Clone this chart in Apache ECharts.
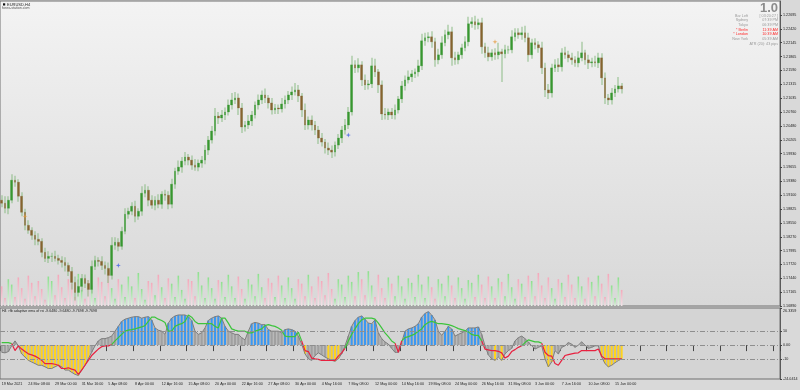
<!DOCTYPE html>
<html><head><meta charset="utf-8">
<script src="https://cdn.jsdelivr.net/npm/echarts@6/dist/echarts.min.js"></script>
<style>html,body{margin:0;padding:0;background:#d9d9d9}#c{width:800px;height:390px}</style>
</head><body><div id="c"></div>
<script>
// ---- DATA (EURUSD, 8-hour bars) ----
const xTickLabels = ['19 Mar 2021','24 Mar 08:00','29 Mar 00:00','31 Mar 16:00','5 Apr 08:00','8 Apr 00:00','12 Apr 16:00','15 Apr 08:00','20 Apr 00:00','22 Apr 16:00','27 Apr 08:00','30 Apr 00:00','4 May 16:00','7 May 08:00','12 May 00:00','14 May 16:00','19 May 08:00','24 May 00:00','26 May 16:00','31 May 08:00','3 Jun 00:00','7 Jun 16:00','10 Jun 08:00','15 Jun 00:00'];
const priceTicks = [1.16890,1.17165,1.17440,1.17720,1.17995,1.18270,1.18550,1.18825,1.19100,1.19380,1.19655,1.19930,1.20205,1.20480,1.20760,1.21035,1.21315,1.21590,1.21865,1.22145,1.22420,1.22695];
const subTicks = [26.3359, 10, 0, -10, -24.0414];
const subTickLabels = ['26.3359','10','0.00','-10','-24.0414'];
const firstOpen = 1.1900;
const closes = [
1.1894,1.1884,1.1900,1.1940,1.1936,1.1908,1.1876,1.1850,1.1840,1.1830,
1.1822,1.1818,1.1796,1.1784,1.1788,1.1788,1.1784,1.1780,1.1776,1.1770,
1.1758,1.1736,1.1716,1.1728,1.1744,1.1734,1.1722,1.1768,1.1780,1.1778,
1.1770,1.1764,1.1750,1.1810,1.1816,1.1808,1.1838,1.1872,1.1878,1.1888,
1.1868,1.1878,1.1914,1.1920,1.1900,1.1890,1.1900,1.1892,1.1912,1.1910,
1.1892,1.1932,1.1958,1.1966,1.1978,1.1986,1.1980,1.1970,1.1966,1.1974,
1.1980,1.2000,1.2020,1.2038,1.2068,1.2064,1.2070,1.2076,1.2090,1.2100,
1.2104,1.2084,1.2046,1.2050,1.2058,1.2070,1.2090,1.2100,1.2110,1.2104,
1.2094,1.2080,1.2084,1.2082,1.2092,1.2100,1.2110,1.2116,1.2120,1.2108,
1.2080,1.2050,1.2060,1.2050,1.2040,1.2024,1.2016,1.2004,1.2000,1.1996,
1.2010,1.2024,1.2040,1.2050,1.2076,1.2170,1.2164,1.2170,1.2140,1.2130,
1.2132,1.2168,1.2156,1.2130,1.2072,1.2070,1.2076,1.2070,1.2080,1.2102,
1.2128,1.2140,1.2146,1.2152,1.2156,1.2168,1.2218,1.2224,1.2226,1.2216,
1.2180,1.2190,1.2214,1.2230,1.2236,1.2184,1.2180,1.2190,1.2204,1.2216,
1.2252,1.2256,1.2250,1.2254,1.2206,1.2194,1.2186,1.2194,1.2190,1.2196,
1.2192,1.2200,1.2200,1.2226,1.2234,1.2230,1.2234,1.2224,1.2190,1.2214,
1.2210,1.2204,1.2164,1.2120,1.2114,1.2164,1.2170,1.2166,1.2194,1.2190,
1.2184,1.2180,1.2174,1.2184,1.2194,1.2180,1.2174,1.2176,1.2174,1.2184,
1.2144,1.2104,1.2100,1.2114,1.2122,1.2128,1.2122];
// wick lengths beyond the body, in pips
const wickHi = [
10,14,8,12,9,6,8,7,10,6, 8,12,6,9,10,7,11,7,8,10, 6,9,12,14,9,8,7,12,9,6,
10,8,12,16,10,8,9,12,7,8, 11,6,14,12,8,10,8,12,6,9, 8,11,7,13,8,10,6,9,12,7,
8,10,8,10,16,8,10,9,11,14, 12,9,10,8,12,8,7,11,9,13, 6,10,8,7,12,9,8,11,14,10,
6,13,7,9,8,8,10,6,11,9, 7,8,8,12,10,18,9,13,7,11, 8,16,14,6,9,12,7,8,11,6,
10,9,13,8,7,12,14,10,9,11, 8,12,13,10,14,10,12,6,8,11, 14,9,12,8,10,8,12,7,9,18,
6,10,8,13,9,9,12,14,10,8, 9,7,12,10,12,8,11,13,9,12, 8,10,7,13,22,6,10,8,12,10,
9,11,8,10,8,18,6];
const wickLo = [
8,10,12,6,9,11,8,10,7,9, 12,8,10,7,9,11,6,8,10,12, 9,14,16,8,10,9,14,8,7,10,
9,12,15,8,9,10,7,6,9,8, 12,7,9,8,12,7,10,8,9,11, 10,8,9,7,11,8,10,9,7,8,
9,8,10,7,9,12,8,10,7,9, 8,14,12,9,8,10,7,9,8,10, 11,9,8,10,7,9,8,10,7,12,
14,10,9,11,10,12,9,11,10,12, 9,8,10,9,8,7,10,9,12,10, 9,8,10,16,12,9,10,8,9,7,
8,9,7,10,8,9,8,10,9,12, 14,9,8,7,9,16,10,9,8,7, 9,8,10,9,14,10,9,8,10,9,
56,9,8,7,9,8,10,9,14,8, 9,10,12,14,12,9,8,10,9,8, 9,10,8,9,7,10,12,9,8,10,
14,12,10,9,8,7,9];
// tick volume (hundreds)
const volumes = [
110,45,150,120,50,160,100,40,170,130, 55,140,95,35,165,140,60,175,105,45,
150,125,50,180,90,40,145,115,45,160, 135,55,170,100,40,150,120,50,165,110,
45,185,95,35,140,130,60,175,105,45, 155,125,50,170,90,40,150,140,55,190,
115,45,160,100,40,145,135,50,175,110, 45,165,95,40,150,120,55,180,105,45,
155,130,50,170,115,45,160,100,40,150, 125,55,175,110,45,165,140,60,185,95,
40,150,120,50,170,135,55,190,150,60, 195,115,50,175,100,45,160,125,55,170,
110,40,155,130,50,175,120,45,165,105, 40,150,125,55,170,115,45,160,100,40,
145,130,50,175,120,45,165,110,45,155, 135,55,180,105,40,150,125,50,170,140,
55,185,115,45,160,100,40,150,130,50, 175,120,45,165,110,40,160,135,55,170,
125,50,180,115,45,160,90];
// fractal-style markers: bar index, price
const markerIdx = [7, 35, 104, 148];
const markerPrice = [1.1868, 1.1770, 1.2030, 1.2216];
const markerColor = ['#e59a3c', '#3d5ee6', '#3d5ee6', '#e59a3c'];
// sub-window: rfb adaptive ema of rsi
const rsiValues = [
-5.1,-5.5,-4.6,-0.5,3.0,-0.5,-6.2,-8.5,-10.8,-12.0,
-13.1,-14.3,-14.3,-15.4,-16.6,-16.6,-15.4,-14.3,-15.4,-17.7,
-17.7,-19.3,-20.7,-21.6,-17.7,-14.3,-9.7,-5.1,-0.5,3.0,
4.6,4.6,5.3,6.4,9.9,13.3,16.8,18.4,19.1,19.8,
20.2,20.2,19.1,19.8,20.2,17.9,12.2,10.6,9.9,7.6,
15.6,19.1,20.7,21.4,21.4,21.4,20.2,17.5,9.9,7.6,
8.7,12.2,17.5,19.1,20.2,20.7,19.1,13.3,9.9,8.7,
7.6,7.6,5.3,3.7,9.9,15.2,16.1,15.6,14.5,14.5,
11.0,9.9,9.9,9.9,8.7,11.0,11.5,11.0,9.9,6.4,
0.7,-6.2,-9.7,-10.8,-7.4,-5.5,-6.9,-8.5,-9.7,-10.8,
-11.5,-9.7,-6.2,-0.5,6.4,13.3,17.5,19.8,20.7,18.4,
15.6,15.2,17.9,8.7,4.6,2.3,0.7,-2.3,-5.1,-5.1,
1.8,9.9,11.5,12.2,13.3,15.2,19.8,22.5,23.7,21.4,
17.9,9.9,6.9,9.9,13.3,11.5,6.4,7.6,8.7,9.9,
12.2,12.2,12.2,12.9,7.6,-0.5,-6.9,-9.7,-10.8,-8.5,
-10.8,-6.2,-3.9,-2.3,3.0,5.3,6.4,4.6,2.3,-0.5,
-2.8,-1.6,-0.5,-9.7,-15.4,-12.0,-3.9,-6.2,-1.6,-0.5,
1.8,0.7,-1.6,0,2.3,0,-2.3,-1.6,-0.5,-0.5,
-8.5,-13.1,-15.4,-14.3,-12.5,-11.0,-9.648];
const signalLine = [
1.8,1.8,1.8,1.1,-3.9,-0.5,-2.8,-4.6,-6.2,-6.9,
-7.8,-9.2,-10.8,-13.1,-13.1,-13.1,-13.6,-14.3,-16.6,-16.6,
-16.1,-17.0,-17.7,-20.7,-17.7,-14.3,-10.8,-7.4,-5.1,-2.8,
-1.1,-0.5,-0.5,0.3,3.0,5.3,7.6,9.9,10.6,11.0,
11.5,12.2,12.9,13.8,16.8,19.8,19.8,18.4,17.5,16.1,
9.9,9.9,13.3,14.5,15.2,16.8,21.4,19.8,16.8,15.2,
15.2,15.2,15.2,15.2,13.3,12.2,19.1,19.1,15.6,11.5,
10.6,9.9,9.9,9.9,8.7,8.7,9.9,10.6,11.5,13.8,
14.5,13.8,13.3,12.2,10.6,6.4,6.0,6.0,6.0,9.2,
3.0,-3.9,-4.6,-9.2,-9.7,-10.1,-10.8,-10.8,-10.8,-10.8,
-10.8,-7.8,-5.5,-2.3,3.0,7.6,11.5,15.2,17.9,19.1,
19.1,19.1,18.4,15.6,12.2,8.7,6.0,3.0,1.4,-5.1,
3.0,5.3,6.0,6.9,8.0,9.9,11.5,14.5,16.1,16.8,
16.1,15.2,15.2,14.9,14.5,13.8,12.9,11.7,11.0,10.3,
9.4,7.6,6.9,6.9,3.0,-2.8,-3.4,-3.9,-3.9,-4.4,
-5.5,-9.2,-7.8,-4.6,-3.2,-1.6,-0.5,1.8,3.7,3.0,
2.3,2.3,1.4,-5.1,-7.4,-7.8,-13.1,-14.3,-10.8,-7.4,
-6.7,-6.2,-5.7,-5.5,-3.9,-3.9,-3.9,-3.9,-3.9,-2.8,
-7.8,-9.7,-9.7698,-9.7698,-9.7698,-9.7698,-9.7698];
const greenRanges = [[0,3],[33,90],[103,118],[120,144],[156,162]];
const redRanges = [[3,33],[90,103],[118,120],[144,156],[162,186]];
const blueRanges = [[35,46],[50,57],[62,67],[75,80],[85,88],[105,112],[121,130],[133,135],[140,143]];
const yellowRanges = [[6,26],[91,91],[98,101],[148,148],[150,150],[163,165],[180,186]];

// ---- BUILD ----
const SLOTS = 234;
const categories = Array.from({length: SLOTS}, (_, i) => String(i));
const PIP = 0.0001;
const opens = closes.map((c, i) => i === 0 ? firstOpen : closes[i - 1]);
const highs = closes.map((c, i) => Math.max(opens[i], c) + (wickHi[i] ?? 8) * PIP);
const lows = closes.map((c, i) => Math.min(opens[i], c) - (wickLo[i] ?? 8) * PIP);
const inR = (i, rs) => rs.some(([a, b]) => i >= a && i <= b);
const G = echarts.graphic.LinearGradient;
const wickData = closes.map((c, i) => [lows[i], highs[i], lows[i], highs[i]]);
const bodyData = closes.map((c, i) => [opens[i], c, Math.min(opens[i], c), Math.max(opens[i], c)]);
const volData = volumes.slice(0, closes.length).map((v, i) => {
  const up = closes[i] >= opens[i];
  return {value: v, itemStyle: {color: new G(0, 0, 0, 1, up
    ? [{offset: 0, color: '#8ee08e'}, {offset: 1, color: '#e4f1e4'}]
    : [{offset: 0, color: '#f4a9bb'}, {offset: 1, color: '#f1e4e8'}])}};
});
const histData = rsiValues.map((v, i) => ({value: v, itemStyle: {color:
  inR(i, blueRanges) ? '#3a98f2' : inR(i, yellowRanges) ? '#ffd31e' : '#a0a0a0'}}));
const greenData = signalLine.map((v, i) => inR(i, greenRanges) ? v : null);
const redData = signalLine.map((v, i) => inR(i, redRanges) ? v : null);
const markerData = markerIdx.map((ix, k) => ({value: [ix, markerPrice[k]], itemStyle: {color: markerColor[k]}}));
const lastClose = closes[closes.length - 1];

const FONT = 'Liberation Sans';
const small = 3.7;
const chart = echarts.init(document.getElementById('c'), null, {renderer: 'canvas'});
const txt = (x, y, text, color, align, size, weight) => ({
  type: 'text', x, y, silent: true,
  style: {text, fill: color, font: (weight || 'normal') + ' ' + (size || small) + 'px "' + FONT + '"',
          align: align || 'left', textAlign: align || 'left', verticalAlign: 'middle', textVerticalAlign: 'middle'}
});
const info = [
  ['Bar Left', '[ 03:20:27 ]', '#9a9a9a'],
  ['Sydney', '07:39 PM', '#9a9a9a'],
  ['Tokyo', '06:39 PM', '#9a9a9a'],
  ['* Berlin', '11:39 AM', '#ff2a2a'],
  ['* London', '10:39 AM', '#ff2a2a'],
  ['New York', '05:39 AM', '#9a9a9a']
];
const graphics = [
  {type: 'rect', shape: {x: 3, y: 3.3, width: 2.2, height: 2.2}, style: {fill: '#111'}, silent: true},
  txt(7, 4.4, 'EURUSD,H4', '#222', 'left', 4),
  txt(2, 7.8, 'forex-station.com', '#555', 'left', 3.6),
  txt(778, 8.5, '1.0', '#8c8c8c', 'right', 13, 'bold'),
  txt(778, 43.8, 'ATR (20): 43 pips', '#9a9a9a', 'right'),
  txt(2, 310.8, 'H4  rfb adaptive ema of rsi -9.6480 -9.6480 -9.7698 -9.7698', '#222', 'left', 3.6)
];
info.forEach((r, k) => {
  const y = 15.8 + k * 4.65;
  graphics.push(txt(748, y, r[0], r[2], 'right'));
  graphics.push(txt(778, y, r[1], r[2], 'right'));
});

const option = {
  animation: false,
  backgroundColor: '#d9d9d9',
  textStyle: {fontFamily: FONT},
  grid: [
    {left: 0, top: 1, width: 780, height: 305, show: true, borderColor: '#707070', borderWidth: 1,
     backgroundColor: new G(0, 0, 0, 1, [{offset: 0, color: '#f3f3f3'}, {offset: 1, color: '#d8d8d8'}]),
     outerBoundsMode: 'none', containLabel: false},
    {left: 0, top: 256, width: 780, height: 50, outerBoundsMode: 'none', containLabel: false},
    {left: 0, top: 308, width: 780, height: 71, show: true, borderColor: '#707070', borderWidth: 1,
     backgroundColor: '#d4d4d4', outerBoundsMode: 'none', containLabel: false}
  ],
  xAxis: [
    {gridIndex: 0, type: 'category', data: categories, show: false},
    {gridIndex: 1, type: 'category', data: categories, show: false},
    {gridIndex: 2, type: 'category', data: categories,
     axisLine: {show: false},
     axisTick: {show: true, interval: 7, length: 6, lineStyle: {color: '#444'}},
     axisLabel: {interval: 7, formatter: (v, i) => xTickLabels[i / 8] || '', align: 'left',
                 fontSize: small, color: '#222', margin: 3}}
  ],
  yAxis: [
    {gridIndex: 0, type: 'value', position: 'right', min: 1.1689, max: 1.22974,
     splitLine: {show: false},
     axisLine: {show: true, lineStyle: {color: '#5a5a5a'}},
     axisTick: {show: true, customValues: priceTicks, length: 2, lineStyle: {color: '#444'}},
     axisLabel: {customValues: priceTicks, formatter: v => v.toFixed(5), fontSize: small, color: '#222', margin: 3}},
    {gridIndex: 1, type: 'value', min: 0, max: 280, show: false},
    {gridIndex: 2, type: 'value', position: 'right', min: -24.0414, max: 26.3359,
     splitLine: {show: false},
     axisLine: {show: true, lineStyle: {color: '#5a5a5a'}},
     axisTick: {show: true, customValues: subTicks, length: 2, lineStyle: {color: '#444'}},
     axisLabel: {customValues: subTicks, fontSize: small, color: '#222', margin: 3,
       formatter: v => {
         let k = 0, best = 1e9;
         subTicks.forEach((t, j) => { const d = Math.abs(t - v); if (d < best) { best = d; k = j; } });
         return k === 0 ? '{t|' + subTickLabels[k] + '}' : subTickLabels[k];
       },
       rich: {t: {fontSize: small, color: '#222', padding: [5, 0, 0, 0]}}}}
  ],
  series: [
    {type: 'candlestick', xAxisIndex: 0, yAxisIndex: 0, data: wickData, barWidth: 1.4, silent: true,
     itemStyle: {color: '#8cbb85', color0: '#8cbb85', borderColor: '#8cbb85', borderColor0: '#8cbb85', borderWidth: 0}},
    {type: 'candlestick', xAxisIndex: 0, yAxisIndex: 0, data: bodyData, barWidth: 2.2, silent: true,
     itemStyle: {color: '#37972f', color0: '#86632f', borderColor: '#37972f', borderColor0: '#86632f', borderWidth: 0.3},
     markLine: {silent: true, symbol: ['none', 'none'], lineStyle: {opacity: 0},
       data: [{yAxis: lastClose}],
       label: {show: true, position: 'end', distance: 1, formatter: lastClose.toFixed(5),
               backgroundColor: '#000', color: '#fff', fontSize: small, padding: [1.2, 2, 0.8, 2]}}},
    {type: 'bar', xAxisIndex: 1, yAxisIndex: 1, data: volData, barWidth: 1.6, silent: true},
    {type: 'scatter', xAxisIndex: 0, yAxisIndex: 0, data: markerData, silent: true,
     symbol: 'path://M0,-5L1.2,-1.2L5,0L1.2,1.2L0,5L-1.2,1.2L-5,0L-1.2,-1.2Z', symbolSize: 5},
    {type: 'line', xAxisIndex: 2, yAxisIndex: 2, data: rsiValues, symbol: 'none', silent: true, z: 1,
     lineStyle: {width: 0}, areaStyle: {color: '#b9b9b9', opacity: 1}},
    {type: 'bar', xAxisIndex: 2, yAxisIndex: 2, data: histData, barWidth: 2, silent: true, z: 2},
    {type: 'line', xAxisIndex: 2, yAxisIndex: 2, data: rsiValues, symbol: 'none', silent: true, z: 3,
     lineStyle: {color: '#7e7e7e', width: 1},
     markLine: {silent: true, symbol: ['none', 'none'], label: {show: false},
       lineStyle: {color: '#8e8e8e', width: 1, type: [5, 2, 1, 2]},
       data: [{yAxis: 10}, {yAxis: 0}, {yAxis: -10}]}},
    {type: 'line', xAxisIndex: 2, yAxisIndex: 2, data: greenData, symbol: 'none', silent: true, z: 4,
     connectNulls: false, lineStyle: {color: '#3cc43c', width: 1.2}},
    {type: 'line', xAxisIndex: 2, yAxisIndex: 2, data: redData, symbol: 'none', silent: true, z: 4,
     connectNulls: false, lineStyle: {color: '#e8203f', width: 1.2}}
  ],
  graphic: graphics
};
chart.setOption(option);
</script>
</body></html>
